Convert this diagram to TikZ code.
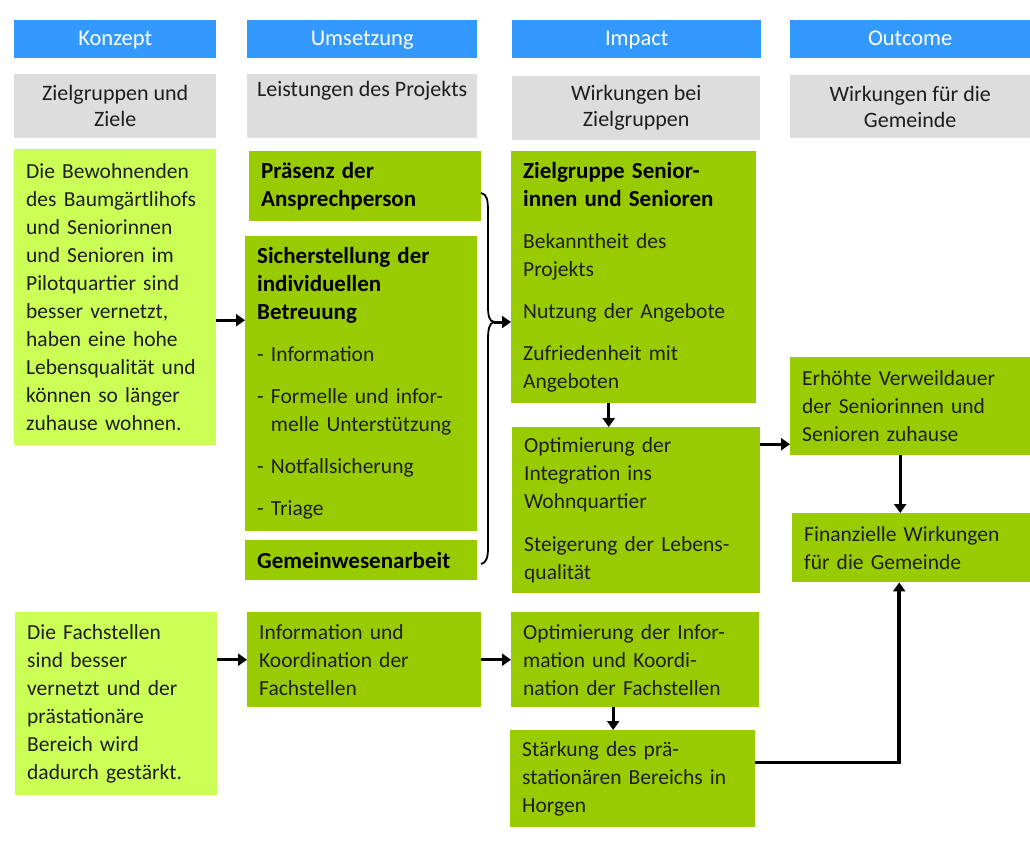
\documentclass[tikz,border=0pt]{standalone}
\usepackage{fontspec}
\setmainfont{Carlito}
\usetikzlibrary{arrows.meta}

\definecolor{headblue}{HTML}{3399FF}
\definecolor{labelgray}{HTML}{DDDDDD}
\definecolor{lightgreen}{HTML}{CCFF55}
\definecolor{darkgreen}{HTML}{99CC00}
\definecolor{bodytext}{HTML}{1E1E1E}

\newcommand{\boxtitle}{\fontsize{23}{28}\selectfont\bfseries\color{black}}

\tikzset{
  head/.style={fill=headblue, text=white, anchor=north west, inner sep=0pt,
    align=center, text depth=2pt, font=\fontsize{22.5}{26}\selectfont},
  graybox/.style={fill=labelgray, text=bodytext, anchor=north west, inner sep=0pt,
    align=center, font=\fontsize{22}{26}\selectfont},
  lgbox/.style={fill=lightgreen, text=bodytext, anchor=north west, inner xsep=12pt,
    inner ysep=0pt, align=left, font=\fontsize{21.5}{28}\selectfont},
  dgbox/.style={lgbox, fill=darkgreen},
  arr/.style={line width=3pt, -{Triangle[length=9pt,width=12pt]}},
  brace/.style={line width=1.8pt}
}

\begin{document}
\begin{tikzpicture}[x=1pt,y=-1pt]
\useasboundingbox (0,0) rectangle (1030,841);

% column heads
\node[head, minimum width=202pt, minimum height=38pt] (hkonzept) at (14,20) {Konzept};
\node[head, minimum width=230pt, minimum height=38pt] (humsetz) at (247,20) {Umsetzung};
\node[head, minimum width=249pt, minimum height=38pt] (himpact) at (512,20) {Impact};
\node[head, minimum width=240pt, minimum height=38pt] (houtcome) at (790,20) {Outcome};

% gray sub heads
\node[graybox, minimum width=202pt, minimum height=64pt] (gziele) at (14,74) {Zielgruppen und\\Ziele};
\node[graybox, minimum width=230pt, minimum height=64pt] (gleist) at (247,74) {Leistungen des Projekts\\\strut};
\node[graybox, minimum width=248pt, minimum height=64pt] (gwirk) at (512,76) {Wirkungen bei\\Zielgruppen};
\node[graybox, minimum width=240pt, minimum height=63pt] (ggem) at (790,75) {Wirkungen für die\\Gemeinde};

% Konzept
\node[lgbox, text width=178pt, minimum height=296pt] (ziel1) at (14,149)
  {Die Bewohnenden\\des Baumgärtlihofs\\und Seniorinnen\\und Senioren im\\Pilotquartier sind\\besser vernetzt,\\haben eine hohe\\Lebensqualität und\\können so länger\\zuhause wohnen.};
\node[lgbox, text width=178pt, minimum height=183pt] (ziel2) at (15,612)
  {Die Fachstellen\\sind besser\\vernetzt und der\\prästationäre\\Bereich wird\\dadurch gestärkt.};

% Umsetzung
\node[dgbox, text width=208pt, minimum height=70pt] (praesenz) at (249,151)
  {\boxtitle Präsenz der\\Ansprechperson};
\node[dgbox, text width=208pt, minimum height=295pt] (sicher) at (245,236)
  {{\boxtitle Sicherstellung der\\individuellen\\Betreuung}\\[14pt]
   - Information\\[14pt]
   - Formelle und infor-\\\phantom{- }melle Unterstützung\\[14pt]
   - Notfallsicherung\\[14pt]
   - Triage};
\node[dgbox, text width=208pt, minimum height=40pt] (gemein) at (245,540)
  {\boxtitle Gemeinwesenarbeit};
\node[dgbox, text width=210pt, minimum height=95pt] (info) at (247,612)
  {Information und\\Koordination der\\Fachstellen};

% Impact
\node[dgbox, text width=221pt, minimum height=252pt] (zs) at (511,151)
  {{\boxtitle Zielgruppe Senior-\\innen und Senioren}\\[14pt]
   Bekanntheit des\\Projekts\\[14pt]
   Nutzung der Angebote\\[14pt]
   Zufriedenheit mit\\Angeboten};
\node[dgbox, text width=224pt, minimum height=166pt] (optint) at (512,427)
  {Optimierung der\\Integration ins\\Wohnquartier\\[15pt]
   Steigerung der Lebens-\\qualität};
\node[dgbox, text width=224pt, minimum height=95pt] (optinfo) at (511,612)
  {Optimierung der Infor-\\mation und Koordi-\\nation der Fachstellen};
\node[dgbox, text width=221pt, minimum height=97pt] (staerk) at (510,730)
  {Stärkung des prä-\\stationären Bereichs in\\Horgen};

% Outcome
\node[dgbox, text width=216pt, minimum height=98pt] (erhoeht) at (790,357)
  {Erhöhte Verweildauer\\der Seniorinnen und\\Senioren zuhause};
\node[dgbox, text width=214pt, minimum height=69pt] (finanz) at (792,513)
  {Finanzielle Wirkungen\\für die Gemeinde};

% brace over the Leistungen
\coordinate (bracetip) at (494,322);
\draw[brace] (481,193) .. controls (487,194) and (488,200) .. (488,212) -- (488,305)
  .. controls (488,316) and (489,321) .. (bracetip)
  .. controls (489,323) and (488,330) .. (488,340) -- (488,548)
  .. controls (488,558) and (486,563) .. (481,564);

% arrows
\draw[arr] ([yshift=-23pt]ziel1.east) -- ([yshift=-23pt]ziel1.east -| sicher.west);
\draw[arr] (bracetip) -- (bracetip -| zs.west);
\draw[arr] ([xshift=-25pt]zs.south) -- ([xshift=-25pt]zs.south |- optint.north);
\draw[arr] ([yshift=-38pt]erhoeht.west -| optint.east) -- ([yshift=-38pt]erhoeht.west);
\draw[arr] ([xshift=-10pt]erhoeht.south) -- ([xshift=-10pt]erhoeht.south |- finanz.north);
\draw[arr] (info.west -| ziel2.east) -- (info.west);
\draw[arr] (info.east) -- (optinfo.west);
\draw[arr] ([xshift=-22pt]optinfo.south) -- ([xshift=-22pt]optinfo.south |- staerk.north);
\draw[arr, line width=3.5pt] ([yshift=16pt]staerk.east) -| ([xshift=-12pt]finanz.south);
\end{tikzpicture}
\end{document}
